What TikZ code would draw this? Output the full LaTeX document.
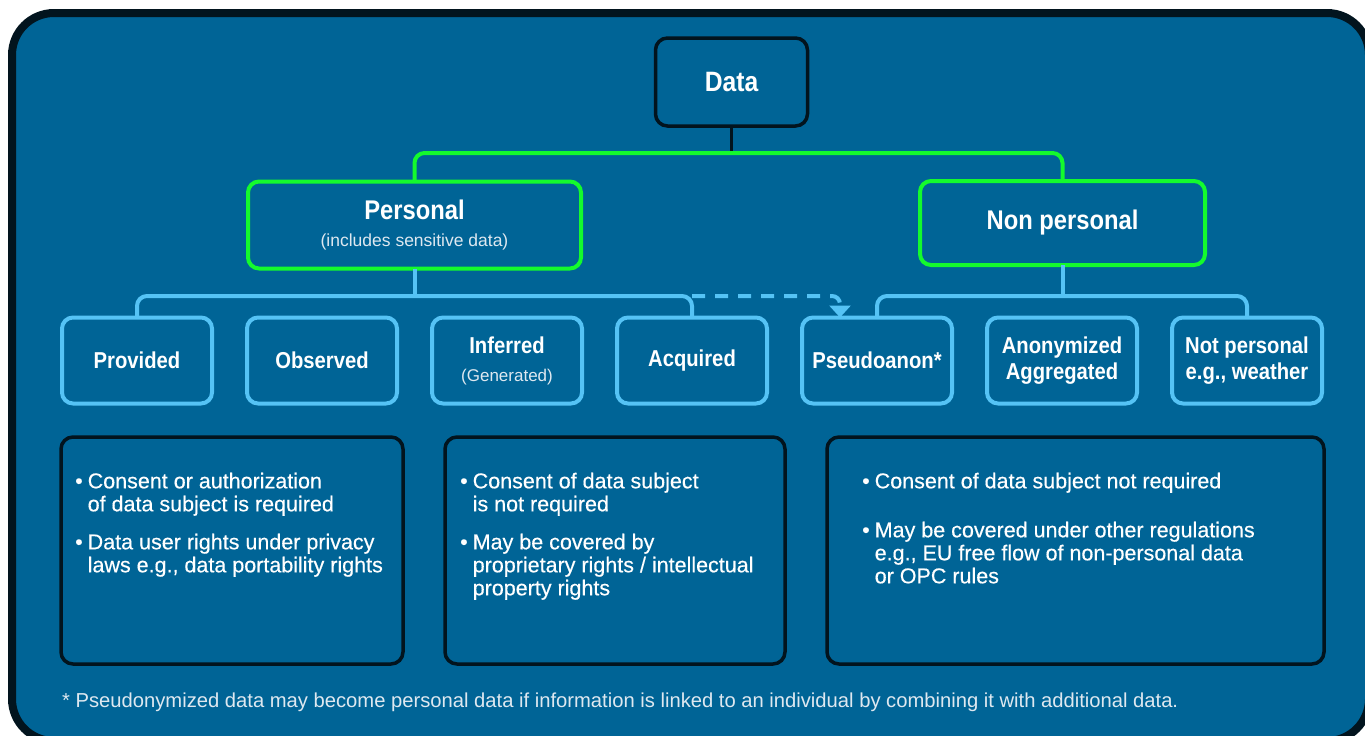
\documentclass[tikz,border=0pt]{standalone}
\usepackage{fontspec}
\setmainfont{Liberation Sans}
\newfontfamily\lblfont[FakeStretch=0.88]{Liberation Sans}
\newfontfamily\notefont[FakeBold=0.35]{Liberation Sans}
\newfontfamily\plainfont{Liberation Sans}
\usetikzlibrary{arrows.meta, positioning}
\definecolor{bgblue}{RGB}{0,100,150}
\definecolor{framedark}{RGB}{2,20,30}
\definecolor{linkgreen}{RGB}{20,250,45}
\definecolor{linkblue}{RGB}{85,195,245}
\definecolor{softwhite}{RGB}{222,232,240}

\begin{document}
\begin{tikzpicture}[x=1pt, y=-1pt, font=\notefont\fontsize{21.5}{23}\selectfont, text=white,
                data box/.style={draw=framedark, line width=3.5pt, rounded corners=12pt, outer sep=0pt,
                                 minimum width=152pt, minimum height=88pt,
                                 font=\lblfont\fontsize{28}{30}\selectfont\bfseries},
                class box/.style={draw=linkgreen, line width=4pt, rounded corners=11pt, outer sep=0pt, align=center},
                kind box/.style={draw=linkblue, line width=4pt, rounded corners=11pt, outer sep=0pt,
                                 minimum width=150pt, minimum height=86pt, align=center,
                                 font=\lblfont\fontsize{23}{26}\selectfont\bfseries},
                note box/.style={draw=framedark, line width=3.5pt, rounded corners=12pt, outer sep=0pt, minimum height=227pt},
                note text/.style={anchor=north west, inner sep=0pt},
                green link/.style={draw=linkgreen, line width=4pt, rounded corners=10pt},
                blue link/.style={draw=linkblue, line width=4pt, rounded corners=10pt}]

                \useasboundingbox (0,0) rectangle (1365,736);
                \clip (0,0) rectangle (1365,736);

                % Outer frame
                \draw[draw=framedark, fill=bgblue, line width=8pt, rounded corners=42pt] (12,13) rectangle (1369,741);

                % Root and the two classes
                \node[data box] (data) at (731.5,82) {Data};
                \node[class box, minimum width=333pt, minimum height=87pt] (personal) at (414.5,225)
                    {{\lblfont\fontsize{27}{30}\selectfont\bfseries Personal}\\[4pt]
                     {\plainfont\mdseries\fontsize{17.5}{20}\selectfont\color{softwhite}(includes sensitive data)}};
                \node[class box, minimum width=285pt, minimum height=84pt,
                      font=\lblfont\fontsize{27}{30}\selectfont\bfseries] (nonpers) at (1062.5,223) {Non personal};

                % Kinds of data
                \node[kind box] (provided) at (137,360.5) {Provided};
                \node[kind box, right=35pt of provided] (observed) {Observed};
                \node[kind box, right=35pt of observed] (inferred)
                    {Inferred\\[2pt]{\plainfont\mdseries\fontsize{17}{20}\selectfont\color{softwhite}(Generated)}};
                \node[kind box, right=35pt of inferred] (acquired) {Acquired};
                \node[kind box, right=35pt of acquired] (pseudo) {Pseudoanon*};
                \node[kind box, right=35pt of pseudo] (anon) {Anonymized\\Aggregated};
                \node[kind box, right=35pt of anon] (notpers) {Not personal\\e.g., weather};

                % Tree links
                \coordinate (gbar) at (731.5,153);
                \draw[draw=framedark, line width=3.5pt] (data.south) -- (gbar);
                \draw[green link] (personal.north) |- (gbar) -| (nonpers.north);

                \coordinate (pbar) at (personal.south |- 0,296);
                \draw[blue link] (personal.south) -- (pbar);
                \draw[blue link] (provided.north) |- (pbar) -| (acquired.north);
                \draw[blue link, dash pattern=on 13pt off 10pt, -{Triangle[width=21pt,length=12pt]}, rounded corners=8pt]
                    (acquired.north |- pbar) -| ([xshift=-37pt]pseudo.north);

                \coordinate (nbar) at (nonpers.south |- 0,296);
                \draw[blue link] (nonpers.south) -- (nbar);
                \draw[blue link] (pseudo.north) |- (nbar) -| (notpers.north);

                % Rules boxes
                \node[note box, minimum width=342pt] (note1) at (232,550.5) {};
                \node[note box, minimum width=340pt, right=42pt of note1] (note2) {};
                \node[note box, minimum width=497pt, right=42pt of note2] (note3) {};

                \node[note text] (note1 text) at ([xshift=14pt, yshift=-35pt]note1.north west)
                    {\begin{tabular}{@{}l@{\hspace{5pt}}l@{}}
                     \textbullet & Consent or authorization\\
                                 & of data subject is required\\[15pt]
                     \textbullet & Data user rights under privacy\\
                                 & laws e.g., data portability rights
                     \end{tabular}};
                \node[note text] (note2 text) at ([xshift=15pt, yshift=-35pt]note2.north west)
                    {\begin{tabular}{@{}l@{\hspace{5pt}}l@{}}
                     \textbullet & Consent of data subject\\
                                 & is not required\\[15pt]
                     \textbullet & May be covered by\\
                                 & proprietary rights / intellectual\\
                                 & property rights
                     \end{tabular}};
                \node[note text] (note3 text) at ([xshift=35pt, yshift=-35pt]note3.north west)
                    {\begin{tabular}{@{}l@{\hspace{5pt}}l@{}}
                     \textbullet & Consent of data subject not required\\[26pt]
                     \textbullet & May be covered under other regulations\\
                                 & e.g., EU free flow of non-personal data\\
                                 & or OPC rules
                     \end{tabular}};

                % Footnote
                \node[anchor=base west, inner sep=0pt, font=\plainfont\fontsize{20.2}{24}\selectfont, text=softwhite] (footnote) at (62,707)
                    {* Pseudonymized data may become personal data if information is linked to an individual by combining it with additional data.};
\end{tikzpicture}
\end{document}
